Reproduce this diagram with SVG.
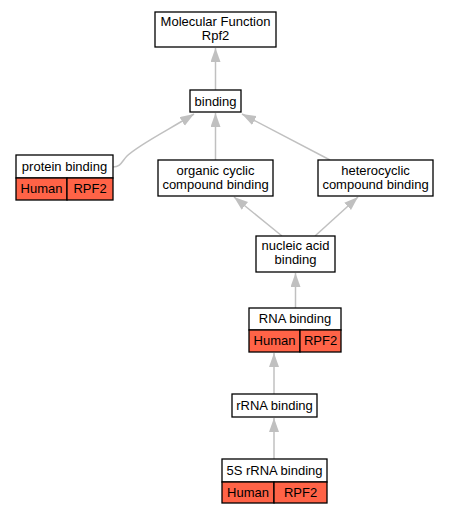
<svg xmlns="http://www.w3.org/2000/svg" width="449" height="515" viewBox="0 0 449 515">
<style>
.box{fill:#fff;stroke:#000;stroke-width:1.3}
.org{fill:#ff6347;stroke:#000;stroke-width:1.3}
text{font-family:"Liberation Sans",Arial,sans-serif;font-size:13px;fill:#000;text-anchor:middle}
.e{fill:none;stroke:#c0c0c0;stroke-width:1.5;marker-end:url(#ah)}
</style>
<defs>
<marker id="ah" markerUnits="userSpaceOnUse" markerWidth="15" markerHeight="11" refX="14" refY="5" orient="auto">
<path d="M0,0 L14,5 L0,10 z" fill="#c0c0c0"/>
</marker>
</defs>
<g id="edges">
<path class="e" d="M215.5,90 L215.5,48"/>
<path class="e" d="M113,167 C121,167 122,161 127,156 C138,145 170,129 194,114"/>
<path class="e" d="M215.5,160 L215.5,113"/>
<path class="e" d="M330,160 L242,114"/>
<path class="e" d="M282,236 L234,197"/>
<path class="e" d="M315,236 L358,197"/>
<path class="e" d="M295.5,308 L295.5,273"/>
<path class="e" d="M274,394 L274,353"/>
<path class="e" d="M274,459 L274,418"/>
</g>
<g id="mf">
<rect class="box" x="155" y="12" width="121" height="35"/>
<text x="215.5" y="26">Molecular Function</text>
<text x="215.5" y="40">Rpf2</text>
</g>
<g id="binding">
<rect class="box" x="190" y="90" width="51" height="22"/>
<text x="215.5" y="105.5">binding</text>
</g>
<g id="protein">
<rect class="box" x="16" y="155" width="97" height="23"/>
<text x="64.5" y="170.5">protein binding</text>
<rect class="org" x="16" y="178" width="51" height="22"/>
<rect class="org" x="67" y="178" width="46" height="22"/>
<text x="41.5" y="193">Human</text>
<text x="90" y="193">RPF2</text>
</g>
<g id="organic">
<rect class="box" x="158" y="160" width="115" height="36"/>
<text x="215.5" y="174.5">organic cyclic</text>
<text x="215.5" y="188.5">compound binding</text>
</g>
<g id="hetero">
<rect class="box" x="318" y="160" width="115" height="36"/>
<text x="375.5" y="174.5">heterocyclic</text>
<text x="375.5" y="188.5">compound binding</text>
</g>
<g id="nucleic">
<rect class="box" x="256" y="236" width="79" height="36"/>
<text x="295.5" y="250">nucleic acid</text>
<text x="295.5" y="264">binding</text>
</g>
<g id="rna">
<rect class="box" x="249" y="308" width="92" height="22"/>
<text x="295" y="322.5">RNA binding</text>
<rect class="org" x="249" y="330" width="51" height="22"/>
<rect class="org" x="300" y="330" width="41" height="22"/>
<text x="274.5" y="345">Human</text>
<text x="320.5" y="345">RPF2</text>
</g>
<g id="rrna">
<rect class="box" x="232" y="394" width="85" height="23"/>
<text x="274.5" y="410">rRNA binding</text>
</g>
<g id="5s">
<rect class="box" x="222" y="459" width="105" height="23"/>
<text x="274.5" y="474.5">5S rRNA binding</text>
<rect class="org" x="222" y="482" width="52" height="21"/>
<rect class="org" x="274" y="482" width="53" height="21"/>
<text x="248" y="497">Human</text>
<text x="300.5" y="497">RPF2</text>
</g>
</svg>
